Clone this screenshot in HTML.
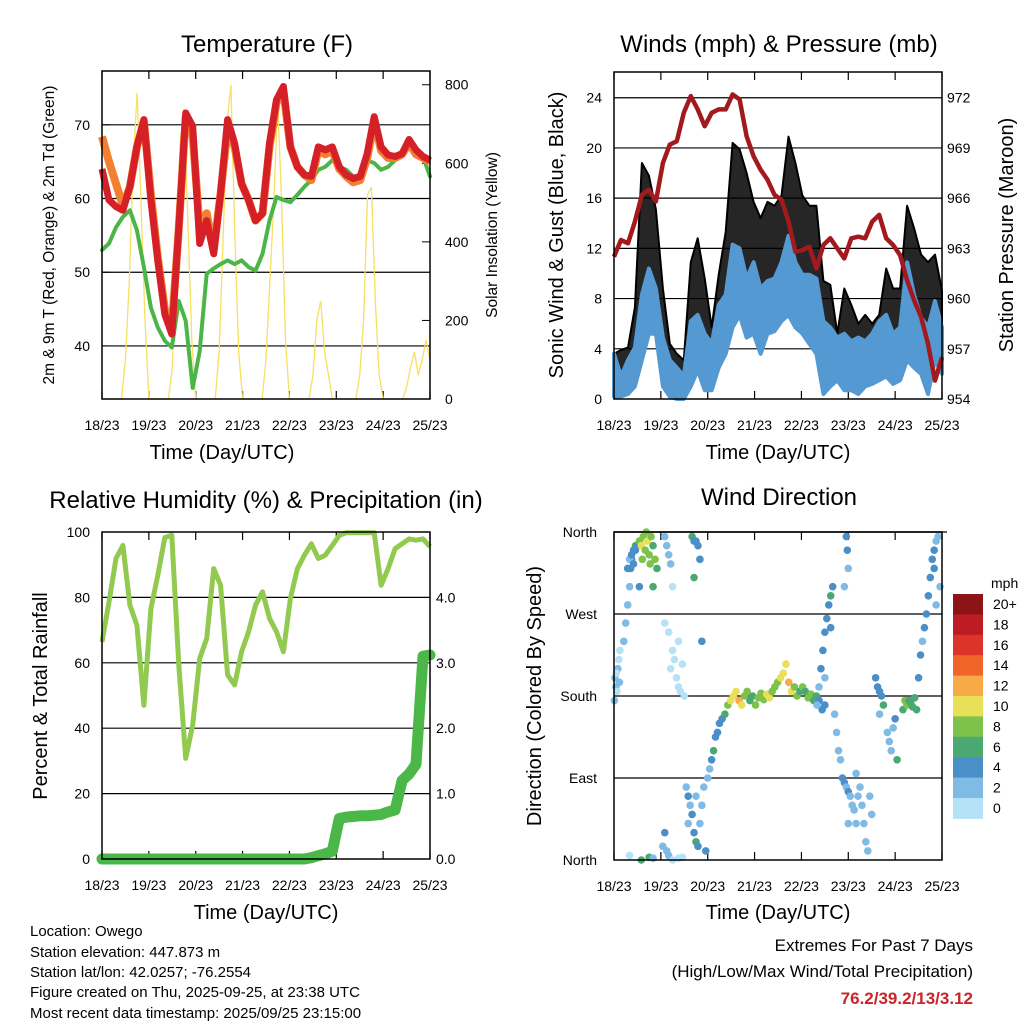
<!DOCTYPE html>
<html><head><meta charset="utf-8">
<style>
html,body{margin:0;padding:0;background:#fff;}
svg{display:block;font-family:"Liberation Sans",Arial,sans-serif;}
</style></head>
<body>
<svg id="chart" width="1024" height="1024" viewBox="0 0 1024 1024" xmlns="http://www.w3.org/2000/svg">
<rect width="1024" height="1024" fill="#fff"/>
<g id="g1"></g>
<g id="g2"></g>
<g id="g3"></g>
<g id="g4"></g>
<g font-size="24" text-anchor="middle" fill="#000">
<text x="267" y="52">Temperature (F)</text>
<text x="779" y="52">Winds (mph) &amp; Pressure (mb)</text>
<text x="266" y="508">Relative Humidity (%) &amp; Precipitation (in)</text>
<text x="779" y="505">Wind Direction</text>
</g>
<g fill="#000" text-anchor="middle">
<text x="222" y="459" font-size="20">Time (Day/UTC)</text>
<text x="778" y="459" font-size="20">Time (Day/UTC)</text>
<text x="266" y="919" font-size="20">Time (Day/UTC)</text>
<text x="778" y="919" font-size="20">Time (Day/UTC)</text>
<text transform="translate(54,235) rotate(-90)" font-size="15.5">2m &amp; 9m T (Red, Orange) &amp; 2m Td (Green)</text>
<text transform="translate(497,235) rotate(-90)" font-size="15.5">Solar Insolation (Yellow)</text>
<text transform="translate(563,235) rotate(-90)" font-size="20">Sonic Wind &amp; Gust (Blue, Black)</text>
<text transform="translate(1013,235) rotate(-90)" font-size="20">Station Pressure (Maroon)</text>
<text transform="translate(47,696) rotate(-90)" font-size="20">Percent &amp; Total Rainfall</text>
<text transform="translate(541,696) rotate(-90)" font-size="20">Direction (Colored By Speed)</text>
</g>
<g font-size="15" fill="#000">
<text x="30" y="936">Location: Owego</text>
<text x="30" y="957">Station elevation: 447.873 m</text>
<text x="30" y="977">Station lat/lon: 42.0257; -76.2554</text>
<text x="30" y="997">Figure created on Thu, 2025-09-25, at 23:38 UTC</text>
<text x="30" y="1018">Most recent data timestamp: 2025/09/25 23:15:00</text>
</g>
<g text-anchor="end">
<text x="973" y="951" font-size="17">Extremes For Past 7 Days</text>
<text x="973" y="977" font-size="17">(High/Low/Max Wind/Total Precipitation)</text>
<text x="973" y="1004" font-size="17" font-weight="bold" fill="#c8242a">76.2/39.2/13/3.12</text>
</g>
</svg>
<script>
// ---- data ----
const dayLabels = ["18/23","19/23","20/23","21/23","22/23","23/23","24/23","25/23"];
const tempTicks = [40,50,60,70];
const solarTicks = [0,200,400,600,800];
const windTicks = [0,4,8,12,16,20,24];
const pressTicks = [954,957,960,963,966,969,972];
const rhTicks = [0,20,40,60,80,100];
const precipTicks = ["0.0","1.0","2.0","3.0","4.0"];
const dirTickLabels = ["North","East","South","West","North"];
const speedBins = ["0","2","4","6","8","10","12","14","16","18","20+"];
const tempRed = [64,59.8,58.9,58.4,61.6,67,70.7,59.8,51.6,44.3,41.6,56,71.6,69.8,53.9,57,52.5,60.7,70.7,67.5,62,59.8,57,58,67.5,73.4,75.2,67,64.3,63.2,63,67,66.6,67,64.3,63.2,62.7,63,66.1,71.1,67,65.9,65.7,66.1,68,66.6,65.7,65.2];
const tempOrange = [68.4,65,62,59,61.6,67,70.5,60.5,52,45,42.5,56,71,68.5,56,58,53,60.7,69.5,67,62,59.8,57,58,67,73,74.5,67,64.3,63.2,62.5,66.5,66,66.5,64,63,62.2,62.5,65.5,70.5,66.5,65.5,65.5,66,67.5,66,65.5,65];
const dewGreen = [53,53.9,56.1,57.5,58.4,55.7,50.7,45.2,42.5,40.7,39.8,46.1,43.4,34.3,39.3,49.8,50.5,51.1,51.6,51.1,51.6,50.7,50.2,52.5,57,60.2,59.8,59.5,60.5,61.6,62.5,63.9,64.3,65.2,64.3,63.9,63,63,65.2,64.8,63.9,64.3,65.2,65.7,67,66.6,65.7,63];
const solar = [0,0,0,0,0,0,100,300,600,780,500,200,0,0,0,0,0,0,80,350,650,740,450,150,0,0,0,0,0,0,120,400,700,800,420,120,0,0,0,0,0,0,100,300,500,760,500,150,0,0,0,0,0,0,60,200,250,120,60,0,0,0,0,0,0,0,60,200,520,540,250,60,0,0,0,0,0,0,30,80,120,60,100,150,100];
const pressure = [962.5,963.5,963.3,964.6,966.2,966.5,965.8,968.1,969.2,969.4,971.1,972.1,971.3,970.3,971.1,971.3,971.3,972.2,971.9,969.7,968.5,967.7,967.1,966.2,965.9,964.6,962.8,962.9,963.1,961.8,963.2,963.6,963,962.4,963.6,963.7,963.6,964.6,965,963.6,963.2,962.6,961.1,959.9,958.9,957.3,955.1,956.5];
const windHi = [3.6,1.8,3.1,4.1,8.3,10.4,8.8,4.9,3.1,2.5,1.8,6.2,6.7,5.2,4.4,7.5,8.3,12.3,12,9.6,10.9,8.8,9.4,9.6,10.9,13,10.9,9.9,9.9,9.6,6.2,5.7,4.9,5.2,4.6,4.9,4.6,5.2,6.2,6.7,5.2,5.7,10.9,8.3,6.5,5.7,7.8,5.7];
const windLo = [0.2,0.2,0.4,1,3.1,5.2,5.2,1,0.2,0,0,1,2.3,0.7,0.7,2.5,3.6,5.7,6.7,4.9,5.2,3.6,5.2,5.4,6.2,6.7,5.7,5.2,4.4,3.6,0.4,1,1.5,0.7,0.7,0.4,1,1.2,1.5,1.8,1.2,1.5,3.1,2.5,2,0.4,3.1,2];
const gustHi = [3.6,3.9,4.1,7.3,18.8,17.8,15.1,8.8,4.4,3.6,3.1,10.9,12.8,9.6,5.7,9.9,13.3,20.4,19.9,18,15.7,14.4,15.7,15.4,16.2,20.9,18.8,16.2,15.4,15.4,9.4,9.1,5.2,8.8,7.5,6,6.7,6,6.7,10.4,8.8,8.8,15.4,13.6,11.5,10.9,11.5,8.6];
const humidity = [66.4,78.6,91.9,95.9,77.6,71.5,47,76.6,86.8,98.3,99,59.3,30.8,41,61.3,67.4,88.8,83.7,56.3,53.2,63.4,69.5,77.6,81.7,73.6,69.5,63.4,79.7,88.8,92.9,96.4,91.9,92.9,95.9,99,99.8,99.8,99.8,99.8,99.8,83.7,88.8,94.9,96.4,97.9,97.5,97.9,95.5];
const precip = [0,0,0,0,0,0,0,0,0,0,0,0,0,0,0,0,0,0,0,0,0,0,0,0,0,0,0,0,0,0,0.02,0.05,0.08,0.12,0.62,0.64,0.65,0.66,0.66,0.67,0.68,0.72,0.75,1.2,1.3,1.45,3.1,3.12];
const dirT = [0.5,1,1.5,2,2.5,3,0.2,1.2,2.8,5,6,7,8,8.5,9,10,11,7,8,9,10,11,12,13,14,15,16,17,18,19,20,21,22,14.5,16.5,18.5,13,20,26,27,28,29,30,26,28,30,31,32,33,34,35,36,29,33,40,41,42,43,44,41,45,8,14,18,20,25,26,27,28,30,33,35,37,38,39,40,41,42,43,44,45,46,47,38,42,48,49,50,51,52,53,54,55.4,56.8,58.3,59.7,61.1,62.5,64,65.4,66.8,68.2,69.6,71,72.5,73.9,75.3,76.7,78.2,79.6,81,82.4,83.8,85.3,86.7,88.1,89.5,90.9,92.4,93.8,95.2,96.6,98,99.5,100.9,102.3,103.7,105.1,106.6,108,104,105,106,107,108,109,110,111,112,111,108,113,114,115,116,117,118,119,120,121,122,123,124,125,126,127,128,129,130,131,132,120,124,119,119.5,120,118,134,135,136,137,138,136,140,141,142,143,144,145,148,149,150,151,152,153,154,155,156,157,158,159,160,161,162,163,164,165,166,164,167,165];
const dirD = [200,190,185,210,220,230,175,205,195,240,260,280,300,320,330,340,345,320,330,335,325,340,345,350,345,355,340,350,335,355,345,330,320,330,360,325,300,300,355,345,335,325,300,260,250,230,220,200,190,185,215,180,210,240,355,350,350,345,330,310,240,5,0,3,2,15,30,10,5,0,2,3,80,70,60,50,30,20,15,40,60,80,10,40,70,90,100,110,120,135,140,150,155,160,170,175,180,185,175,170,180,185,175,180,170,178,183,176,182,178,185,190,195,200,205,215,195,185,190,180,185,190,185,178,182,175,180,175,165,170,170,190,210,230,250,265,280,290,300,255,200,160,140,120,110,90,85,80,75,70,60,55,40,70,80,60,40,20,10,70,50,40,95,355,340,320,300,200,190,185,180,170,160,140,130,120,145,155,110,165,175,170,175,172,168,178,165,200,225,240,255,270,290,310,330,340,350,355,320,300,280];
const dirS = [2,3,1,2,1,1,3,1,3,2,3,3,3,4,4,5,6,4,3,4,4,5,4,8,10,9,8,10,9,8,7,9,7,8,9,8,5,7,3,2,3,2,1,1,1,1,1,1,1,1,1,1,1,1,6,5,4,4,5,6,4,1,7,6,3,3,4,3,2,1,1,1,3,4,3,4,5,6,4,3,3,2,4,2,3,2,3,4,6,4,4,4,5,7,9,10,11,10,12,11,9,8,7,6,8,9,8,9,10,11,9,8,9,10,11,10,12,11,8,9,7,8,6,8,9,7,6,4,4,5,3,3,4,4,4,5,4,6,4,4,3,2,2,2,2,4,4,3,4,3,2,3,2,3,2,2,2,2,2,3,2,2,2,4,4,3,3,4,4,5,4,6,3,3,3,3,3,4,6,6,8,9,7,6,7,6,6,4,4,3,4,4,4,4,4,4,3,2,5,3,2];

// ---- helpers ----
const NS="http://www.w3.org/2000/svg";
function mk(parent,tag,attrs){const e=document.createElementNS(NS,tag);for(const k in attrs)e.setAttribute(k,attrs[k]);parent.appendChild(e);return e;}
function txt(parent,x,y,s,size,anchor){const e=mk(parent,"text",{x:x,y:y,"font-size":size,"text-anchor":anchor});e.textContent=s;return e;}
function lin(d0,d1,r0,r1){return v=>r0+(v-d0)/(d1-d0)*(r1-r0);}
function idxX(sx,n){return i=>sx(i/(n-1)*168);}
function path(xs,ys){return xs.map((x,i)=>(i?"L":"M")+x.toFixed(1)+","+ys[i].toFixed(1)).join("");}
const speedColors=["#b5e2f7","#80bbe6","#4a8fc7","#4aa872","#7dc24b","#e8e058","#f7aa45","#ef6429","#dc3429","#bb1d23","#8d1416"];

function frame(g,X0,X1,Y0,Y1,gridYs,dayX){
  gridYs.forEach(y=>{const l=mk(g,"line",{x1:X0,x2:X1,y1:y,y2:y,stroke:"#000","stroke-width":1.2});
    
    });
  dayLabels.forEach((d,i)=>{const x=dayX(i*24);
    mk(g,"line",{x1:x,x2:x,y1:Y1,y2:Y1-8,stroke:"#000","stroke-width":1.2});
    mk(g,"line",{x1:x,x2:x,y1:Y0,y2:Y0+8,stroke:"#000","stroke-width":1.2});
    const t=txt(g,x,Y1+31,d,14,"middle");
    
    });
}
function border(g,X0,X1,Y0,Y1){const r=mk(g,"rect",{x:X0,y:Y0,width:X1-X0,height:Y1-Y0,fill:"none",stroke:"#000","stroke-width":1.5});
  
  }

// ---- Panel 1: temperature ----
(function(){
  const g=document.getElementById("g1");
  const X0=102,X1=430,Y0=71,Y1=399;
  const sx=lin(0,168,X0,X1), sy=lin(32.8,77.3,Y1,Y0), ss=lin(0,835,Y1,Y0);
  frame(g,X0,X1,Y0,Y1,tempTicks.map(sy),sx);
  tempTicks.forEach(v=>{const t=txt(g,X0-12,sy(v)+5,String(v),14,"end");
    
    
    mk(g,"line",{x1:X0,x2:X0+8,y1:sy(v),y2:sy(v),stroke:"#000"});});
  solarTicks.forEach(v=>{const t=txt(g,X1+15,ss(v)+5,String(v),14,"start");
    
    
    mk(g,"line",{x1:X1,x2:X1-8,y1:ss(v),y2:ss(v),stroke:"#000"});});
  const fs=idxX(sx,solar.length);
  const s=mk(g,"path",{d:path(solar.map((v,i)=>fs(i)),solar.map(ss)),fill:"none",stroke:"#f8e060","stroke-width":1.3});
  
  
  const fg=idxX(sx,dewGreen.length);
  const gr=mk(g,"path",{d:path(dewGreen.map((v,i)=>fg(i)),dewGreen.map(sy)),fill:"none",stroke:"#4cb548","stroke-width":4,"stroke-linejoin":"round","stroke-linecap":"round"});
  
  
  const fo=idxX(sx,tempOrange.length);
  const o=mk(g,"path",{d:path(tempOrange.map((v,i)=>fo(i)),tempOrange.map(sy)),fill:"none",stroke:"#f28030","stroke-width":8,"stroke-linejoin":"round"});
  
  
  const fr=idxX(sx,tempRed.length);
  const r=mk(g,"path",{d:path(tempRed.map((v,i)=>fr(i)),tempRed.map(sy)),fill:"none",stroke:"#d42026","stroke-width":7,"stroke-linejoin":"round"});
  
  
  border(g,X0,X1,Y0,Y1);
})();

// ---- Panel 2: winds ----
(function(){
  const g=document.getElementById("g2");
  const X0=614,X1=942,Y0=72,Y1=399;
  const sx=lin(0,168,X0,X1), sy=lin(0,26.05,Y1,Y0), sp=lin(954,954+26.05*0.75,Y1,Y0);
  frame(g,X0,X1,Y0,Y1,windTicks.slice(1).map(sy),sx);
  windTicks.forEach(v=>{const t=txt(g,X0-12,sy(v)+5,String(v),14,"end");
    
    });
  pressTicks.forEach(v=>{const t=txt(g,X1+5,sp(v)+5,String(v),14,"start");
    
    });
  const fx=idxX(sx,gustHi.length);
  const xs=gustHi.map((v,i)=>fx(i));
  const gp="M"+xs.map((x,i)=>x.toFixed(1)+","+sy(gustHi[i]).toFixed(1)).join("L")+"L"+xs.slice().reverse().map((x,j)=>x.toFixed(1)+","+sy(windLo[xs.length-1-j]).toFixed(1)).join("L")+"Z";
  const gg=mk(g,"path",{d:gp,fill:"#000",stroke:"#000","stroke-width":2,"stroke-linejoin":"round","fill-opacity":0.85});
  
  
  const bp="M"+xs.map((x,i)=>x.toFixed(1)+","+sy(windHi[i]).toFixed(1)).join("L")+"L"+xs.slice().reverse().map((x,j)=>x.toFixed(1)+","+sy(windLo[xs.length-1-j]).toFixed(1)).join("L")+"Z";
  const bb=mk(g,"path",{d:bp,fill:"#5599d2",stroke:"#5599d2","stroke-width":4,"stroke-linejoin":"round"});
  
  
  const pp=mk(g,"path",{d:path(pressure.map((v,i)=>fx(i)),pressure.map(sp)),fill:"none",stroke:"#a31a1e","stroke-width":4.5,"stroke-linejoin":"round"});
  
  
  border(g,X0,X1,Y0,Y1);
})();

// ---- Panel 3: humidity & precip ----
(function(){
  const g=document.getElementById("g3");
  const X0=102,X1=430,Y0=532,Y1=859;
  const sx=lin(0,168,X0,X1), sy=lin(0,100,Y1,Y0), sp=lin(0,5,Y1,Y0);
  frame(g,X0,X1,Y0,Y1,rhTicks.slice(1,5).map(sy),sx);
  rhTicks.forEach(v=>{const t=txt(g,X0-12,sy(v)+5,String(v),14,"end");
    
    });
  precipTicks.forEach(v=>{const t=txt(g,X1+6,sp(parseFloat(v))+5,v,14,"start");
    
    });
  const fh=idxX(sx,humidity.length);
  const h=mk(g,"path",{d:path(humidity.map((v,i)=>fh(i)),humidity.map(sy)),fill:"none",stroke:"#92c94f","stroke-width":5,"stroke-linejoin":"round"});
  
  
  const fp=idxX(sx,precip.length);
  const p=mk(g,"path",{d:path(precip.map((v,i)=>fp(i)),precip.map(sp)),fill:"none",stroke:"#4bb748","stroke-width":11,"stroke-linejoin":"round","stroke-linecap":"round"});
  
  
  border(g,X0,X1,Y0,Y1);
})();

// ---- Panel 4: wind direction ----
(function(){
  const g=document.getElementById("g4");
  const X0=614,X1=942,Y0=532,Y1=860;
  const sx=lin(0,168,X0,X1), sy=lin(0,360,Y1,Y0);
  frame(g,X0,X1,Y0,Y1,[90,180,270,360].map(sy),sx);
  mk(g,"line",{x1:X0,x2:X1+5,y1:Y0,y2:Y0,stroke:"#000","stroke-width":1.2});
  dirTickLabels.forEach((s,i)=>{const t=txt(g,X0-17,sy(i*90)+5,s,14,"end");
    
    });
  dirT.forEach((t,i)=>{const b=Math.min(10,Math.floor(dirS[i]/2));
    const c=mk(g,"circle",{cx:sx(t),cy:sy(dirD[i]),r:3.8,fill:speedColors[b]});
    
    });
  border(g,X0,X1,Y0,Y1);
  const cb=mk(g,"g",{});
  
  
  const bx=953,bw=30,top=594,bh=20.4;
  const lt=txt(cb,991,588,"mph",14,"start");
  
  
  speedBins.forEach((s,i)=>{const k=10-i;
    const r=mk(cb,"rect",{x:bx,y:top+i*bh,width:bw,height:bh+0.5,fill:speedColors[k]});
    
    
    const t=txt(cb,993,top+i*bh+15,speedBins[k],14,"start");
    
    });
})();
</script>
</body></html>
